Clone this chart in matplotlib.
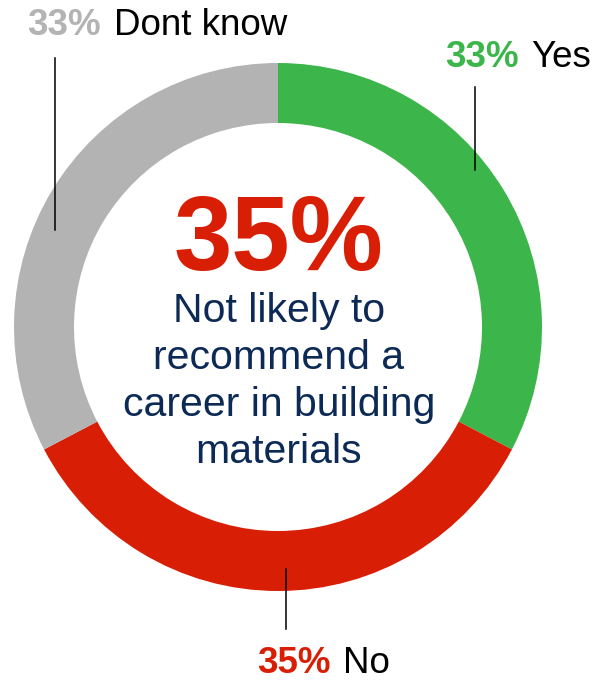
import matplotlib.pyplot as plt

plt.rcParams['font.family'] = ['Liberation Sans', 'DejaVu Sans']

labels = ['Yes', 'No', 'Dont know']
shares = [33, 35, 33]
colors = ['#3cb54a', '#d81e05', '#b3b3b3']
headline = '35%'
headline_text = ['Not likely to', 'recommend a', 'career in building', 'materials']

W, H = 594, 681
fig = plt.figure(figsize=(W / 100, H / 100), dpi=100)
ax = fig.add_axes([0, 0, 1, 1])

cx, cy = 278, H - 327
R, ring = 264, 60
ax.pie(shares, colors=colors, startangle=90, counterclock=False,
       center=(cx, cy), radius=R, frame=True,
       wedgeprops=dict(width=ring, linewidth=0))
ax.set_xlim(0, W)
ax.set_ylim(0, H)
ax.axis('off')

# big number and caption in the hole
ax.text(cx, H - 270, headline, ha='center', va='baseline', fontsize=75.5,
        fontweight='bold', color=colors[1])
navy = '#0c2a55'
for i, line in enumerate(headline_text):
    ax.text(cx + 1, H - 322 - 47 * i, line, ha='center', va='baseline',
            fontsize=29.5, color=navy)

# leader lines: (x, y_top, y_bottom) in pixels from the top
leaders = [(475, 87, 170), (286, 569, 629), (55, 58, 230)]
for x, y0, y1 in leaders:
    ax.plot([x, x], [H - y0, H - y1], color='black', lw=1.1)

# callouts: bold percent followed by the answer
callouts = [(445, 67), (257, 673), (27, 35)]
fig.canvas.draw()
rend = fig.canvas.get_renderer()
inv = ax.transData.inverted()
for (x, yb), lab, val, col in zip(callouts, labels, shares, colors):
    t = ax.text(x, H - yb, f'{val}%', ha='left', va='baseline', fontsize=26.5,
                fontweight='bold', color=col)
    bb = t.get_window_extent(renderer=rend)
    x1 = inv.transform((bb.x1, bb.y0))[0]
    ax.text(x1 + 13, H - yb, lab, ha='left', va='baseline', fontsize=26.5,
            color='black')

fig.savefig('out.png', dpi=100)
